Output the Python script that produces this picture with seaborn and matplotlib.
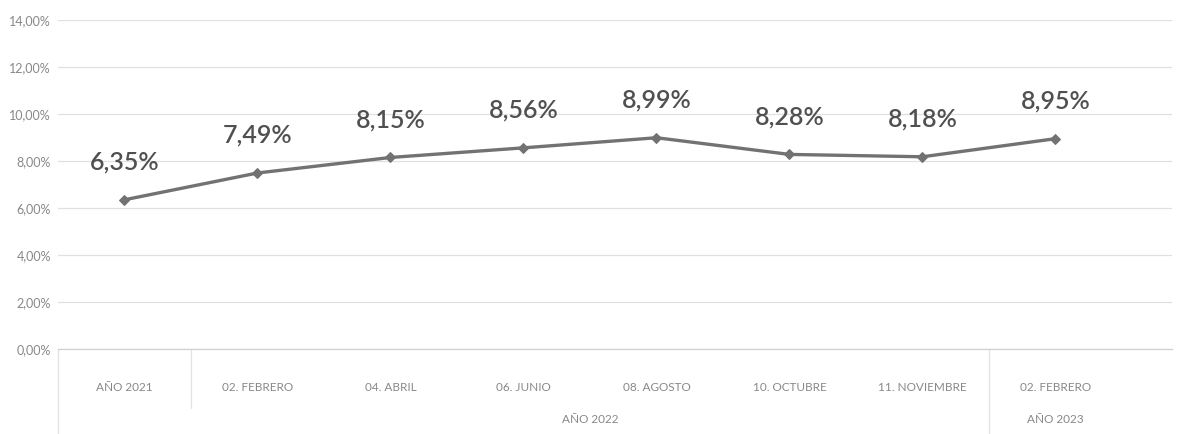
import numpy as np
import pandas as pd
import matplotlib
matplotlib.use("Agg")
import matplotlib.pyplot as plt
import matplotlib.transforms as mtrans
from matplotlib.ticker import FuncFormatter
import seaborn as sns

# ---- data ----
categories = ["AÑO 2021", "02. FEBRERO", "04. ABRIL", "06. JUNIO",
              "08. AGOSTO", "10. OCTUBRE", "11. NOVIEMBRE", "02. FEBRERO"]
values = [6.35, 7.49, 8.15, 8.56, 8.99, 8.28, 8.18, 8.95]
group_labels = ["AÑO 2022", "AÑO 2023"]
group_spans = [(1, 6), (7, 7)]
y_ticks = [0, 2, 4, 6, 8, 10, 12, 14]

sns.set_theme(style="white")
plt.rcParams['font.family'] = ['Lato', 'DejaVu Sans']

df = pd.DataFrame({"pos": np.arange(len(categories)), "val": values})

fig = plt.figure(figsize=(11.81, 4.34), dpi=100)
ax = fig.add_axes([58 / 1181, 85 / 434, 1114 / 1181, 329 / 434])

sns.lineplot(data=df, x="pos", y="val", ax=ax, color="#727272", linewidth=2.4,
             marker="D", markersize=5, markeredgecolor="#727272", sort=False)

ax.set_ylim(0, 14)
ax.set_xlim(-0.5, 7.876)
ax.set_yticks(y_ticks)
ax.yaxis.set_major_formatter(FuncFormatter(lambda v, p: f"{v:.2f}".replace(".", ",") + "%"))
ax.grid(axis="y", color="#dde0e6", linewidth=0.9)
ax.grid(axis="x", visible=False)
for s in ["top", "right", "left"]:
    ax.spines[s].set_visible(False)
ax.spines["bottom"].set_color("#d0d0d0")
ax.spines["bottom"].set_linewidth(0.9)
ax.set_xlabel("")
ax.set_ylabel("")
ax.tick_params(axis="y", length=0, pad=5, labelsize=9, labelcolor="#888888")
ax.set_xticks(df["pos"])
ax.set_xticklabels(categories)
ax.tick_params(axis="x", length=0, pad=24, labelsize=8.5, labelcolor="#888888")

# data labels
for x, v in zip(df["pos"], df["val"]):
    ax.annotate(f"{v:.2f}".replace(".", ",") + "%", (x, v), xytext=(0, 27),
                textcoords="offset points", ha="center", va="center",
                fontsize=18, fontweight="semibold", color="#505050")

# group labels (second level of category axis)
trans = mtrans.blended_transform_factory(ax.transData, ax.transAxes)
for lab, (a, b) in zip(group_labels, group_spans):
    ax.text((a + b) / 2, -0.215, lab, transform=trans, ha="center", va="center",
            fontsize=8.5, color="#888888")

# separators of multi-level axis
for xb, depth in [(-0.5, -0.26), (0.5, -0.18), (6.5, -0.26)]:
    ax.plot([xb, xb], [0, depth], transform=trans, color="#e3e3e3",
            linewidth=0.9, clip_on=False)

fig.savefig("out.png", dpi=100, facecolor="white")
